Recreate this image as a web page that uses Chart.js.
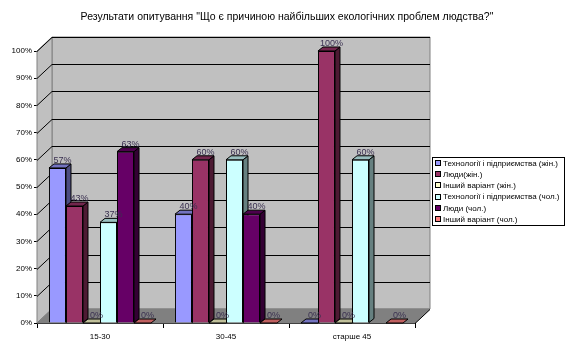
<!DOCTYPE html>
<html>
<head>
<meta charset="utf-8">
<script src="https://cdn.jsdelivr.net/npm/chart.js@4"></script>
<style>
  html, body { margin: 0; padding: 0; background: #fff; }
  #wrap { width: 570px; height: 353px; }
</style>
</head>
<body>
<div id="wrap"><canvas id="c" width="570" height="353"></canvas></div>
<script>
// Результати опитування — дані
const titleText = 'Результати опитування "Що є причиною найбільших екологічних проблем людства?"'
const categories = ['15-30', '30-45', 'старше 45']
const seriesNames = [
  'Технології і підприємства (жін.)',
  'Люди(жін.)',
  'Інший варіант (жін.)',
  'Технології і підприємства (чол.)',
  'Люди (чол.)',
  'Інший варіант (чол.)',
]
const techF  = [57, 40, 0]
const peopleF = [43, 60, 100]
const otherF = [0, 0, 0]
const techM  = [37, 60, 60]
const peopleM = [63, 40, null]
const otherM = [0, 0, 0]
const yTicks = [0, 10, 20, 30, 40, 50, 60, 70, 80, 90, 100]

const COLORS = ['#9999FF', '#993366', '#FFFFCC', '#CCFFFF', '#660066', '#FF8080']
const FONT = "Arial, 'Liberation Sans', sans-serif"
const DX = 15, DY = -14      // profondeur des parois
const BX = 5, BY = -4        // profondeur des barres

function shade(hex, f) {
  const n = parseInt(hex.slice(1), 16)
  const r = Math.round(((n >> 16) & 255) * f)
  const g = Math.round(((n >> 8) & 255) * f)
  const b = Math.round((n & 255) * f)
  return `rgb(${r},${g},${b})`
}

function poly(ctx, pts, fill, stroke) {
  ctx.beginPath()
  ctx.moveTo(pts[0][0], pts[0][1])
  for (let i = 1; i < pts.length; i++) ctx.lineTo(pts[i][0], pts[i][1])
  ctx.closePath()
  if (fill) { ctx.fillStyle = fill; ctx.fill() }
  if (stroke) { ctx.strokeStyle = stroke; ctx.lineWidth = 1; ctx.stroke() }
}

// Parois 3D + quadrillage + faces des barres
const walls = {
  id: 'walls',
  beforeDatasetsDraw(chart) {
    const { ctx, chartArea: a, scales: { y } } = chart
    ctx.save()
    poly(ctx, [[a.left + DX, a.top + DY], [a.right + DX, a.top + DY], [a.right + DX, a.bottom + DY], [a.left + DX, a.bottom + DY]], '#C0C0C0', '#808080')
    poly(ctx, [[a.left, a.top], [a.left + DX, a.top + DY], [a.left + DX, a.bottom + DY], [a.left, a.bottom]], '#C0C0C0', '#808080')
    poly(ctx, [[a.left, a.bottom], [a.right, a.bottom], [a.right + DX, a.bottom + DY], [a.left + DX, a.bottom + DY]], '#808080', '#808080')
    ctx.strokeStyle = '#000'
    ctx.lineWidth = 1
    yTicks.forEach(v => {
      if (v === 0) return
      const py = Math.round(y.getPixelForValue(v)) + 0.5
      ctx.beginPath()
      ctx.moveTo(a.left, py)
      ctx.lineTo(a.left + DX, py + DY)
      ctx.lineTo(a.right + DX, py + DY)
      ctx.stroke()
    })
    ctx.beginPath()
    ctx.moveTo(a.right, a.bottom + 0.5)
    ctx.lineTo(a.right + DX, a.bottom + DY + 0.5)
    ctx.stroke()

    const bars = []
    chart.data.datasets.forEach((ds, di) => {
      chart.getDatasetMeta(di).data.forEach((el, i) => {
        if (ds.data[i] === null) return
        bars.push({ el, color: COLORS[di] })
      })
    })
    bars.sort((p, q) => p.el.x - q.el.x)
    bars.forEach(({ el, color }) => {
      const l = el.x - el.width / 2, r = el.x + el.width / 2
      const t = el.y, b = el.base
      if (b - t > 0.5) {
        poly(ctx, [[r, t], [r + BX, t + BY], [r + BX, b + BY], [r, b]], shade(color, 0.5), '#000')
      }
      poly(ctx, [[l, t], [l + BX, t + BY], [r + BX, t + BY], [r, t]], shade(color, 0.75), '#000')
    })
    ctx.restore()
  },
  afterDatasetsDraw(chart) {
    const { ctx } = chart
    ctx.save()
    ctx.font = `9px ${FONT}`
    ctx.fillStyle = '#3A3050'
    ctx.textAlign = 'center'
    ctx.textBaseline = 'bottom'
    chart.data.datasets.forEach((ds, di) => {
      chart.getDatasetMeta(di).data.forEach((el, i) => {
        const v = ds.data[i]
        if (v === null) return
        ctx.fillText(v + '%', el.x + 5, el.y - 3)
      })
    })
    ctx.restore()
  },
}

// Titre centré sur toute la largeur + légende encadrée
const decor = {
  id: 'decor',
  afterDraw(chart) {
    const { ctx } = chart
    ctx.save()
    ctx.font = `10.5px ${FONT}`
    ctx.fillStyle = '#000'
    ctx.textAlign = 'center'
    ctx.textBaseline = 'middle'
    ctx.fillText(titleText, 287, 17)

    const x0 = 432, y0 = 157, w = 132, h = 68
    ctx.fillStyle = '#fff'
    ctx.fillRect(x0, y0, w, h)
    ctx.strokeStyle = '#000'
    ctx.lineWidth = 1
    ctx.strokeRect(x0 + 0.5, y0 + 0.5, w, h)
    ctx.font = `8px ${FONT}`
    ctx.textAlign = 'left'
    chart.data.datasets.forEach((ds, i) => {
      const cy = y0 + 6 + i * 11.2
      ctx.fillStyle = COLORS[i]
      ctx.fillRect(x0 + 3, Math.round(cy) - 3, 5, 5)
      ctx.strokeRect(x0 + 3.5, Math.round(cy) - 2.5, 5, 5)
      ctx.fillStyle = '#000'
      ctx.fillText(ds.label, x0 + 11, cy + 0.5)
    })
    ctx.restore()
  },
}

const seriesValues = [techF, peopleF, otherF, techM, peopleM, otherM]

new Chart(document.getElementById('c'), {
  type: 'bar',
  data: {
    labels: categories,
    datasets: seriesValues.map((vals, i) => ({
      label: seriesNames[i],
      data: vals,
      backgroundColor: COLORS[i],
      borderColor: '#000',
      borderWidth: 1,
      categoryPercentage: 0.81,
      barPercentage: 1,
    })),
  },
  options: {
    responsive: false,
    animation: false,
    devicePixelRatio: 1,
    layout: { padding: { left: 0, right: 155, top: 51, bottom: 0 } },
    plugins: {
      legend: { display: false },
      tooltip: { enabled: false },
      title: { display: false },
    },
    scales: {
      x: {
        afterFit: s => { s.height = 30 },
        grid: { display: true, offset: true, drawOnChartArea: false, color: '#000', tickLength: 5 },
        border: { display: true, color: '#000' },
        ticks: { color: '#000', font: { family: FONT, size: 8 }, padding: 4 },
      },
      y: {
        min: 0, max: 100,
        afterFit: s => { s.width = 37 },
        afterBuildTicks: s => { s.ticks = yTicks.map(v => ({ value: v })) },
        grid: { display: true, drawOnChartArea: false, color: '#000', tickLength: 3 },
        border: { display: true, color: '#000' },
        ticks: { color: '#000', font: { family: FONT, size: 8 }, padding: 2, callback: v => v + '%' },
      },
    },
  },
  plugins: [walls, decor],
})
</script>
</body>
</html>
